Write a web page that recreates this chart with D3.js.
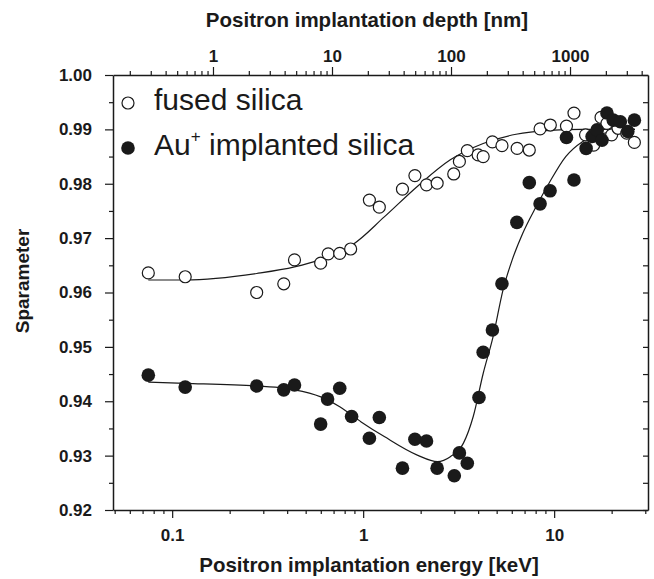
<!DOCTYPE html>
<html><head><meta charset="utf-8">
<script src="https://cdn.jsdelivr.net/npm/d3@7"></script>
<style>body{margin:0;background:#fff}svg{display:block}</style>
</head><body>
<svg id="chart" width="654" height="579"></svg>
<script>
// ---- data ----
const fusedE = [0.075,0.117,0.277,0.384,0.437,0.599,0.656,0.754,0.86,1.078,1.215,1.606,1.866,2.146,2.44,2.98,3.19,3.51,4.0,4.25,4.75,5.33,6.4,7.41,8.44,9.55,11.6,12.7,14.6,16.1,17.6,18.9,20.0,21.6,24.0,26.3];
const fusedS = [0.9636,0.9629,0.9600,0.9616,0.9660,0.9654,0.9671,0.9672,0.9680,0.9770,0.9757,0.9790,0.9815,0.9798,0.9801,0.9818,0.9841,0.9861,0.9853,0.9850,0.9877,0.9870,0.9865,0.9862,0.9901,0.9908,0.9906,0.9930,0.9890,0.9871,0.9922,0.9911,0.9890,0.9902,0.9893,0.9876];
const auE = [0.075,0.117,0.277,0.384,0.437,0.599,0.651,0.754,0.87,1.078,1.215,1.606,1.866,2.146,2.44,3.0,3.19,3.51,4.04,4.25,4.75,5.33,6.38,7.41,8.44,9.52,11.6,12.7,14.7,15.8,16.8,17.8,18.9,20.4,22.2,24.3,26.3];
const auS = [0.9448,0.9426,0.9428,0.9421,0.9430,0.9358,0.9404,0.9424,0.9372,0.9332,0.9370,0.9277,0.9330,0.9327,0.9277,0.9263,0.9305,0.9286,0.9407,0.9490,0.9531,0.9616,0.9729,0.9802,0.9763,0.9787,0.9885,0.9807,0.9865,0.9887,0.9899,0.9880,0.9930,0.9917,0.9914,0.9896,0.9917];
const fusedFitE = [0.075,0.117,0.277,0.437,0.6,0.75,0.88,1.29,1.92,2.86,4.25,6.32,9.4,14.0,26.5];
const fusedFitS = [0.9623,0.9623,0.9635,0.9647,0.9661,0.9675,0.9688,0.9739,0.9795,0.9844,0.9874,0.9891,0.9898,0.9900,0.9900];
const auFitE = [0.075,0.117,0.277,0.384,0.437,0.6,0.754,0.976,1.29,1.92,2.45,2.86,3.35,3.77,4.25,4.79,5.4,6.03,6.85,8.05,9.4,11.5,14.0,17.1,20.9,26.5];
const auFitS = [0.9435,0.9433,0.9428,0.9424,0.9421,0.9408,0.9390,0.9362,0.9335,0.9301,0.9289,0.9298,0.9323,0.9372,0.9451,0.9519,0.9605,0.9660,0.9709,0.9758,0.9801,0.9850,0.9877,0.9890,0.9897,0.9900];
const energyDomain = [0.049, 31];
const depthDomain = [0.1445, 4520];
const sDomain = [0.92, 1.00];
const energyTickLabels = [0.1, 1, 10];
const depthTickLabels = [1, 10, 100, 1000];
const sTickLabels = [0.92,0.93,0.94,0.95,0.96,0.97,0.98,0.99,1.00];
const legendLabels = ["fused silica", "Au", "+", " implanted silica"];
const xTitle = "Positron implantation energy [keV]";
const topTitle = "Positron implantation depth [nm]";
const yTitle = "Sparameter";

// ---- layout ----
const L = 113, R = 648, T = 75, B = 510;
const svg = d3.select("#chart");
const x = d3.scaleLog().domain(energyDomain).range([L, R]);
const xt = d3.scaleLog().domain(depthDomain).range([L, R]);
const y = d3.scaleLinear().domain(sDomain).range([B, T]);
const ink = "#1a1a1a";
const bold = "'Liberation Sans', Arial, sans-serif";

function logTicks(scale) {
  const [a, b] = scale.domain();
  const out = [];
  for (let e = Math.floor(Math.log10(a)); e <= Math.ceil(Math.log10(b)); e++) {
    for (let m = 1; m <= 9; m++) {
      const v = m * Math.pow(10, e);
      if (v >= a * 0.999 && v <= b * 1.001) out.push(v);
    }
  }
  return out;
}
const isMajor = v => Math.abs(Math.log10(v) - Math.round(Math.log10(v))) < 1e-6;

// fit lines
const line = d3.line().curve(d3.curveMonotoneX);
svg.append("path").attr("d", line(fusedFitE.map((e,i)=>[x(e), y(fusedFitS[i])])))
  .attr("fill","none").attr("stroke",ink).attr("stroke-width",1.2);
svg.append("path").attr("d", line(auFitE.map((e,i)=>[x(e), y(auFitS[i])])))
  .attr("fill","none").attr("stroke",ink).attr("stroke-width",1.2);

// points
svg.append("g").selectAll("circle").data(fusedE.map((e,i)=>[e,fusedS[i]])).join("circle")
  .attr("cx", d=>x(d[0])).attr("cy", d=>y(d[1])).attr("r", 6)
  .attr("fill","#fff").attr("stroke",ink).attr("stroke-width",1.2);
svg.append("g").selectAll("circle").data(auE.map((e,i)=>[e,auS[i]])).join("circle")
  .attr("cx", d=>x(d[0])).attr("cy", d=>y(d[1])).attr("r", 6.8)
  .attr("fill",ink);

// axes
const gBottom = svg.append("g").attr("transform", `translate(0,${B})`)
  .call(d3.axisBottom(x).tickValues(logTicks(x)).tickFormat(d => energyTickLabels.includes(+d.toPrecision(3)) ? d3.format("~g")(d) : "").tickSizeOuter(0));
const gTop = svg.append("g").attr("transform", `translate(0,${T})`)
  .call(d3.axisTop(xt).tickValues(logTicks(xt)).tickFormat(d => depthTickLabels.includes(+d.toPrecision(3)) ? d3.format("~g")(d) : "").tickSizeOuter(0));
const yTicksAll = d3.range(0, 17).map(i => +(0.92 + i * 0.005).toFixed(3));
const gLeft = svg.append("g").attr("transform", `translate(${L},0)`)
  .call(d3.axisLeft(y).tickValues(yTicksAll).tickFormat(d => sTickLabels.includes(d) ? d3.format(".2f")(d) : "").tickSizeOuter(0));
const gRight = svg.append("g").attr("transform", `translate(${R},0)`)
  .call(d3.axisRight(y).tickValues(yTicksAll).tickFormat("").tickSize(-5).tickSizeOuter(0));

[gBottom, gTop].forEach(g => {
  g.selectAll(".tick line").attr("y2", function(d){ const s = Math.sign(+d3.select(this).attr("y2")) || 1; return s * (isMajor(d) ? 8 : 4); });
});
gLeft.selectAll(".tick line").attr("x2", d => sTickLabels.includes(d) ? -8 : -4);
[gBottom, gTop, gLeft, gRight].forEach(g => {
  g.select(".domain").attr("stroke", ink).attr("stroke-width", 1.5);
  g.selectAll(".tick line").attr("stroke", ink).attr("stroke-width", 1.2);
  g.selectAll(".tick text").attr("fill", ink).style("font-family", bold).style("font-weight","bold").style("font-size","17px");
});
gBottom.selectAll(".tick text").attr("y", 19);
gTop.selectAll(".tick text").attr("y", -13);
gLeft.selectAll(".tick text").attr("x", -21);

// titles
svg.append("text").attr("x", 369).attr("y", 572).attr("text-anchor","middle")
  .style("font-family",bold).style("font-weight","bold").style("font-size","20.5px").attr("fill",ink).text(xTitle);
svg.append("text").attr("x", 367).attr("y", 27).attr("text-anchor","middle")
  .style("font-family",bold).style("font-weight","bold").style("font-size","20.5px").attr("fill",ink).text(topTitle);
svg.append("text").attr("transform","translate(29,281) rotate(-90)").attr("text-anchor","middle")
  .style("font-family",bold).style("font-weight","bold").style("font-size","19px").attr("fill",ink).text(yTitle);

// legend
svg.append("circle").attr("cx",128).attr("cy",103).attr("r",6).attr("fill","#fff").attr("stroke",ink).attr("stroke-width",1.2);
svg.append("circle").attr("cx",128).attr("cy",148).attr("r",6.8).attr("fill",ink);
const lf = "'Liberation Sans', Arial, sans-serif";
svg.append("text").attr("x",154).attr("y",110).style("font-family",lf).style("font-size","30px").attr("fill",ink).text(legendLabels[0]);
const t2 = svg.append("text").attr("x",154).attr("y",155).style("font-family",lf).style("font-size","30px").attr("fill",ink);
t2.append("tspan").text(legendLabels[1]);
t2.append("tspan").attr("dy",-13).style("font-size","17px").text(legendLabels[2]);
t2.append("tspan").attr("dy",13).text(legendLabels[3]);
</script>
</body></html>
